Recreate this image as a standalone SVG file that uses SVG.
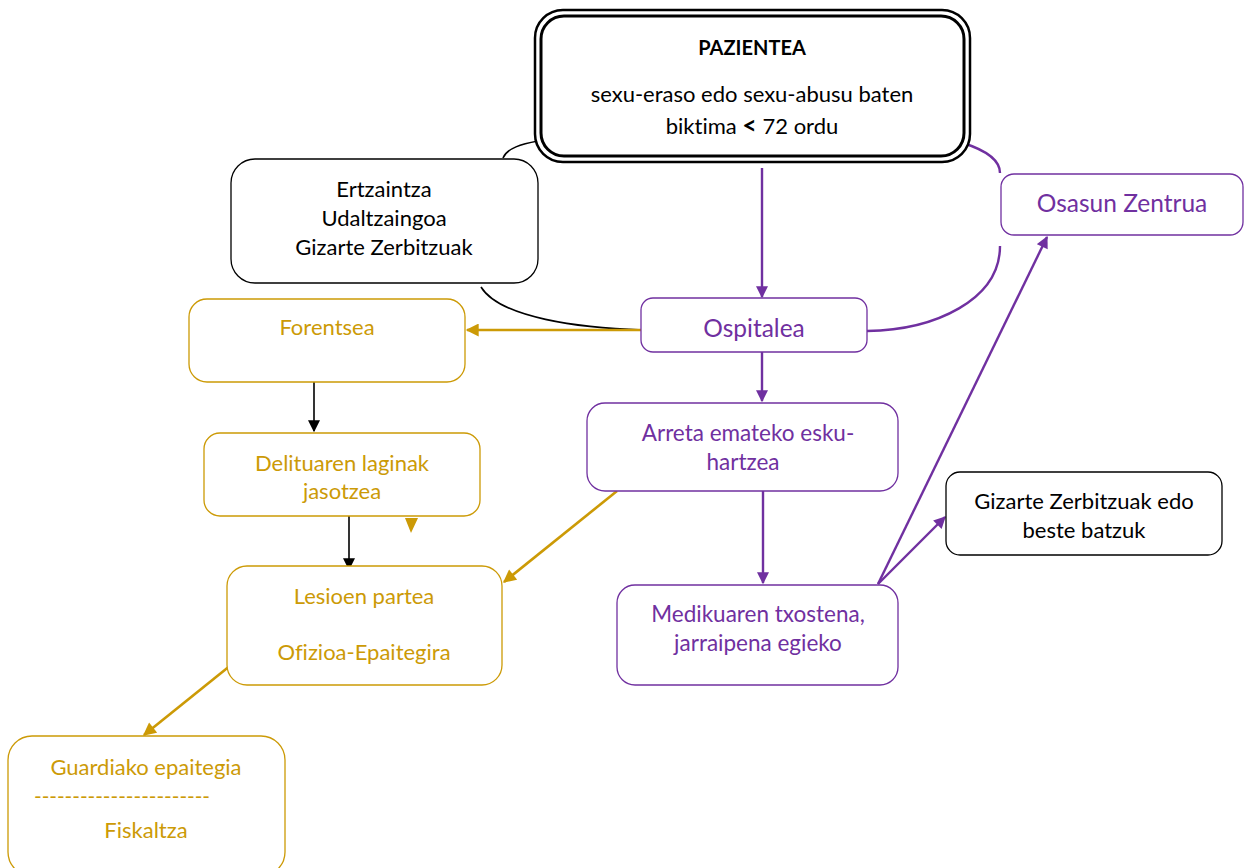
<svg xmlns="http://www.w3.org/2000/svg" width="1244" height="868" viewBox="0 0 1244 868">
<defs>
<style>
text{font-family:Lato,"Open Sans","Liberation Sans",sans-serif;text-anchor:middle;font-variant-ligatures:none;font-feature-settings:"liga" 0}
.blk{fill:#000;font-size:22px}
.gold{fill:#CC9A06;font-size:22px}
.pur{fill:#7030A0;font-size:22.5px}
.big{font-size:24.5px}
.hd{font-size:20px;font-weight:bold}
.bx{fill:#fff;stroke-width:1.3}
.bb{stroke:#000}
.bg{stroke:#CC9A06}
.bp{stroke:#7030A0}
.cb{fill:none;stroke:#000;stroke-width:1.6}
.cg{fill:none;stroke:#CC9A06;stroke-width:2.6}
.cp{fill:none;stroke:#7030A0;stroke-width:2.4}
</style>
<marker id="ag" viewBox="0 0 10 10" refX="9" refY="5" markerWidth="15" markerHeight="13" markerUnits="userSpaceOnUse" orient="auto"><path d="M0,0L10,5L0,10z" fill="#CC9A06"/></marker>
<marker id="ap" viewBox="0 0 10 10" refX="9" refY="5" markerWidth="14" markerHeight="12" markerUnits="userSpaceOnUse" orient="auto"><path d="M0,0L10,5L0,10z" fill="#7030A0"/></marker>
<marker id="ab" viewBox="0 0 10 10" refX="9" refY="5" markerWidth="14" markerHeight="12" markerUnits="userSpaceOnUse" orient="auto"><path d="M0,0L10,5L0,10z" fill="#000"/></marker>
</defs>

<g id="connectors">
<path class="cb" d="M503,158 C507,148 522,144 538,141"/>
<path class="cb" d="M481,287 C500,318 580,328 643,330"/>
<path class="cp" d="M963,143 C985,150 1000,160 1000,173"/>
<path class="cp" d="M1000,246 C1000,300 935,330 867,331"/>
<path class="cp" d="M762,168 L762,297" stroke-width="3.2" marker-end="url(#ap)"/>
<path class="cp" d="M762,330 L762,401" marker-end="url(#ap)"/>
<path class="cp" d="M763,491 L763,583" marker-end="url(#ap)"/>
<path class="cp" d="M878,584 L1047,237" marker-end="url(#ap)"/>
<path class="cp" d="M878,584 L945,517" marker-end="url(#ap)"/>
<path class="cg" d="M641,330 L467,330" marker-end="url(#ag)"/>
<path class="cg" d="M617,491 L504,582" marker-end="url(#ag)"/>
<path class="cg" d="M231,665 L144,735" marker-end="url(#ag)"/>
<path fill="#CC9A06" d="M405,518 L418,518 L411,533z"/>
<path class="cb" d="M314,382 L314,431" stroke-width="2" marker-end="url(#ab)"/>
<path class="cb" d="M349,516 L349,569" stroke-width="2" marker-end="url(#ab)"/>
</g>

<g id="pazientea">
<rect x="535" y="10" width="435" height="152" rx="28" fill="#fff" stroke="#000" stroke-width="2.5"/>
<rect x="541" y="16" width="423" height="140" rx="23" fill="#fff" stroke="#000" stroke-width="3"/>
<text class="blk hd" x="752" y="55">PAZIENTEA</text>
<text class="blk" x="752" y="102">sexu-eraso edo sexu-abusu baten</text>
<text class="blk" x="752" y="134">biktima  <tspan font-weight="bold" style="font-size:25px">&lt;</tspan> 72 ordu</text>
</g>

<g id="ertzaintza">
<rect class="bx bb" x="231" y="159" width="307" height="124" rx="24"/>
<text class="blk" x="384" y="197">Ertzaintza</text>
<text class="blk" x="384" y="226">Udaltzaingoa</text>
<text class="blk" x="384" y="255">Gizarte Zerbitzuak</text>
</g>

<g id="forentsea">
<rect class="bx bg" x="189" y="299" width="276" height="83" rx="18"/>
<text class="gold" x="327" y="335">Forentsea</text>
</g>

<g id="ospitalea">
<rect class="bx bp" x="641" y="298" width="226" height="54" rx="12"/>
<text class="pur big" x="754" y="337">Ospitalea</text>
</g>

<g id="osasun">
<rect class="bx bp" x="1001" y="174" width="242" height="61" rx="13"/>
<text class="pur big" x="1122" y="212">Osasun Zentrua</text>
</g>

<g id="arreta">
<rect class="bx bp" x="587" y="403" width="311" height="88" rx="18"/>
<text class="pur" x="748" y="441">Arreta emateko esku-</text>
<text class="pur" x="743" y="470">hartzea</text>
</g>

<g id="medikuaren">
<rect class="bx bp" x="617" y="585" width="281" height="100" rx="18"/>
<text class="pur" x="758" y="622">Medikuaren txostena,</text>
<text class="pur" x="758" y="651">jarraipena egieko</text>
</g>

<g id="gizarte">
<rect class="bx bb" x="946" y="472" width="276" height="83" rx="14"/>
<text class="blk" x="1084" y="509">Gizarte Zerbitzuak edo</text>
<text class="blk" x="1084" y="538">beste batzuk</text>
</g>

<g id="delituaren">
<rect class="bx bg" x="204" y="433" width="276" height="83" rx="16"/>
<text class="gold" x="342" y="471">Delituaren laginak</text>
<text class="gold" x="342" y="499">jasotzea</text>
</g>

<g id="lesioen">
<rect class="bx bg" x="227" y="566" width="275" height="119" rx="20"/>
<text class="gold" x="364" y="604">Lesioen partea</text>
<text class="gold" x="364" y="660">Ofizioa-Epaitegira</text>
</g>

<g id="guardiako">
<rect class="bx bg" x="8" y="736" width="277" height="140" rx="24"/>
<text class="gold" x="146" y="775">Guardiako epaitegia</text>
<text class="gold" x="122" y="804" textLength="176" lengthAdjust="spacingAndGlyphs">-----------------------</text>
<text class="gold" x="146" y="838">Fiskaltza</text>
</g>
</svg>
